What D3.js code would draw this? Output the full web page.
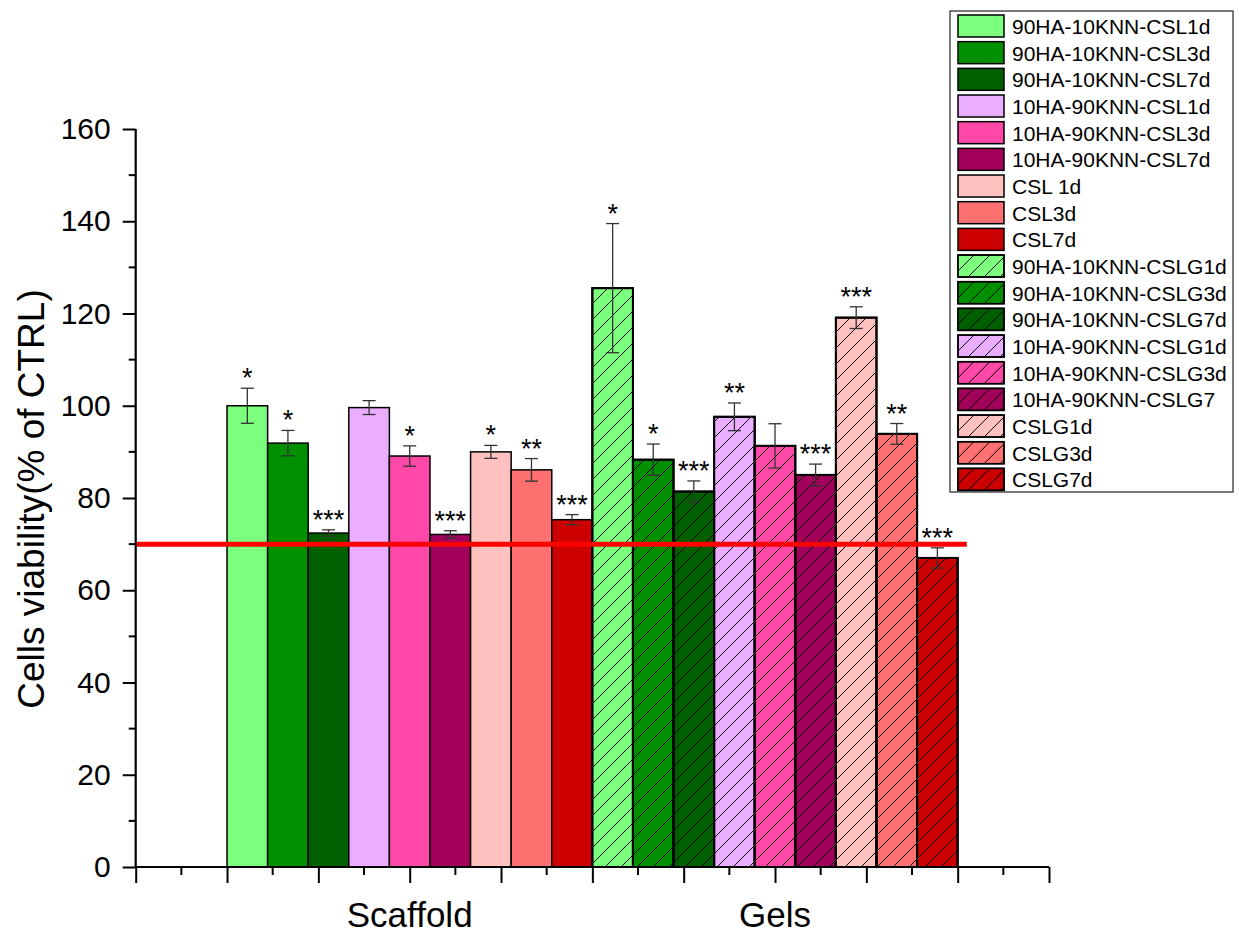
<!DOCTYPE html>
<html>
<head>
<meta charset="utf-8">
<script src="https://cdn.jsdelivr.net/npm/d3@7"></script>
<style>
  body { margin: 0; background: #fff; }
  text { font-family: "Liberation Sans", Arial, sans-serif; fill: #000; }
</style>
</head>
<body>
<svg id="chart"></svg>
<script>
// data
var groups = ["Scaffold", "Gels"];
var groupCenters = [3, 7];

var scaffoldNames = ["90HA-10KNN-CSL1d", "90HA-10KNN-CSL3d", "90HA-10KNN-CSL7d",
    "10HA-90KNN-CSL1d", "10HA-90KNN-CSL3d", "10HA-90KNN-CSL7d",
    "CSL 1d", "CSL3d", "CSL7d"];
var gelNames = ["90HA-10KNN-CSLG1d", "90HA-10KNN-CSLG3d", "90HA-10KNN-CSLG7d",
    "10HA-90KNN-CSLG1d", "10HA-90KNN-CSLG3d", "10HA-90KNN-CSLG7",
    "CSLG1d", "CSLG3d", "CSLG7d"];

var scaffoldMean = [100.0, 91.9, 72.4, 99.6, 89.1, 72.1, 90.0, 86.1, 75.3];
var scaffoldErr = [3.8, 2.75, 0.7, 1.5, 2.2, 0.8, 1.4, 2.45, 1.1];
var scaffoldSig = ["*", "*", "***", "", "*", "***", "*", "**", "***"];

var gelMean = [125.5, 88.3, 81.4, 97.6, 91.3, 85.0, 119.1, 93.9, 67.0];
var gelErr = [14.0, 3.4, 2.3, 3.0, 4.8, 2.35, 2.35, 2.25, 2.2];
var gelSig = ["*", "*", "***", "**", "", "***", "***", "**", "***"];

var colors = ["#7cff7c", "#009000", "#006000", "#ebadff", "#ff48a8",
    "#a2005a", "#ffc0c0", "#ff7070", "#cc0000"];

var yTicks = [0, 20, 40, 60, 80, 100, 120, 140, 160];
var thresholdValue = 70;
var thresholdExtent = [0, 9.1];

var width = 1239;
var height = 936;

var svg = d3.select("#chart").attr("width", width).attr("height", height);

var x = d3.scaleLinear().domain([0, 10]).range([135.7, 1049]);
var y = d3.scaleLinear().domain([0, 160]).range([867, 129]);

// bar slot inside a group, in axis units
var inner = d3.scaleBand().domain(d3.range(9)).range([-2, 2]);

var bars = [];
for (let i = 0; i < 9; i++) {
    bars.push({ name: scaffoldNames[i], g: 0, j: i, mean: scaffoldMean[i], err: scaffoldErr[i], sig: scaffoldSig[i], hatch: false });
}
for (let i = 0; i < 9; i++) {
    bars.push({ name: gelNames[i], g: 1, j: i, mean: gelMean[i], err: gelErr[i], sig: gelSig[i], hatch: true });
}

var p = 16;
var defs = svg.append("defs");
defs.append("pattern")
    .attr("id", "hatch")
    .attr("patternUnits", "userSpaceOnUse")
    .attr("width", p)
    .attr("height", p)
    .append("path")
    .attr("d", `M-4,4 L4,-4 M0,${p} L${p},0 M${p - 4},${p + 4} L${p + 4},${p - 4}`)
    .attr("stroke", "#000")
    .attr("stroke-width", 1);

function barX0(d) { return x(groupCenters[d.g] + inner(d.j)); }
function barX1(d) { return x(groupCenters[d.g] + inner(d.j) + inner.bandwidth()); }

var barG = svg.append("g");

barG.selectAll(".bar")
    .data(bars)
    .enter().append("rect")
    .attr("class", "bar")
    .attr("x", d => barX0(d))
    .attr("y", d => y(d.mean))
    .attr("width", d => barX1(d) - barX0(d))
    .attr("height", d => y(0) - y(d.mean))
    .attr("fill", d => colors[d.j])
    .attr("stroke", "#000")
    .attr("stroke-width", d => d.hatch ? 2 : 1.5);

barG.selectAll(".hatchBar")
    .data(bars.filter(d => d.hatch))
    .enter().append("rect")
    .attr("class", "hatchBar")
    .attr("x", d => barX0(d))
    .attr("y", d => y(d.mean))
    .attr("width", d => barX1(d) - barX0(d))
    .attr("height", d => y(0) - y(d.mean))
    .attr("fill", "url(#hatch)")
    .attr("stroke", "#000")
    .attr("stroke-width", 2);

// error bars
var capHalf = 6.5;
var errG = svg.append("g").attr("stroke", "#333").attr("stroke-width", 1.3);
bars.forEach(function (d) {
    var cx = (barX0(d) + barX1(d)) / 2;
    errG.append("line").attr("x1", cx).attr("x2", cx).attr("y1", y(d.mean + d.err)).attr("y2", y(d.mean - d.err));
    errG.append("line").attr("x1", cx - capHalf).attr("x2", cx + capHalf).attr("y1", y(d.mean + d.err)).attr("y2", y(d.mean + d.err));
    errG.append("line").attr("x1", cx - capHalf).attr("x2", cx + capHalf).attr("y1", y(d.mean - d.err)).attr("y2", y(d.mean - d.err));
});

// significance stars
svg.append("g").selectAll("text")
    .data(bars.filter(d => d.sig !== ""))
    .enter().append("text")
    .attr("x", d => (barX0(d) + barX1(d)) / 2)
    .attr("y", d => y(d.mean + d.err) - 1)
    .attr("text-anchor", "middle")
    .attr("font-size", "27px")
    .text(d => d.sig);

// 70% threshold
svg.append("line")
    .attr("x1", x(thresholdExtent[0]))
    .attr("x2", x(thresholdExtent[1]))
    .attr("y1", y(thresholdValue))
    .attr("y2", y(thresholdValue))
    .attr("stroke", "#ff0000")
    .attr("stroke-width", 5);

// y axis
var yAxis = svg.append("g")
    .attr("transform", `translate(${x(0)},0)`)
    .call(d3.axisLeft(y).tickValues(yTicks).tickSize(13).tickPadding(12));
yAxis.selectAll("text").attr("font-size", "30px").attr("font-family", "Liberation Sans, Arial, sans-serif");
yAxis.append("g").selectAll("line")
    .data(d3.range(10, 160, 20))
    .enter().append("line")
    .attr("x1", -7).attr("x2", 0)
    .attr("y1", d => y(d)).attr("y2", d => y(d))
    .attr("stroke", "#000");

// x axis
var xAxis = svg.append("g")
    .attr("transform", `translate(0,${y(0)})`)
    .call(d3.axisBottom(x).tickValues(d3.range(0, 11)).tickSize(16).tickFormat(""));
xAxis.append("g").selectAll("line")
    .data(d3.range(0.5, 10, 1))
    .enter().append("line")
    .attr("x1", d => x(d)).attr("x2", d => x(d))
    .attr("y1", 0).attr("y2", 8)
    .attr("stroke", "#000");

[xAxis, yAxis].forEach(function (a) {
    a.select(".domain").attr("stroke-width", 2.2);
    a.selectAll("line").attr("stroke-width", 2);
});
yAxis.select(".domain").attr("d", `M0,${y(0)}V${y(160)}`);
xAxis.select(".domain").attr("d", `M${x(0)},0H${x(10)}`);

svg.append("g").selectAll("text")
    .data(groups)
    .enter().append("text")
    .attr("x", (d, i) => x(groupCenters[i]))
    .attr("y", 927)
    .attr("text-anchor", "middle")
    .attr("font-size", "35px")
    .text(d => d);

svg.append("text")
    .attr("transform", "translate(44,499) rotate(-90)")
    .attr("text-anchor", "middle")
    .attr("font-size", "37px")
    .text("Cells viability(% of CTRL)");

// legend
var legend = svg.append("g");
legend.append("rect")
    .attr("x", 950).attr("y", 11)
    .attr("width", 283).attr("height", 481)
    .attr("fill", "#fff")
    .attr("stroke", "#222")
    .attr("stroke-width", 1.2);

var rowH = 26.67;
var items = legend.selectAll(".item")
    .data(bars)
    .enter().append("g")
    .attr("class", "item")
    .attr("transform", (d, i) => `translate(958,${15 + i * rowH})`);

items.append("rect")
    .attr("width", 46).attr("height", 22)
    .attr("fill", d => colors[d.j])
    .attr("stroke", "#000").attr("stroke-width", 1.5);
items.filter(d => d.hatch).append("rect")
    .attr("width", 46).attr("height", 22)
    .attr("fill", "url(#hatch)")
    .attr("stroke", "#000").attr("stroke-width", 1.5);
items.append("text")
    .attr("x", 54)
    .attr("y", 11)
    .attr("dy", "0.38em")
    .attr("font-size", "21px")
    .text(d => d.name);
</script>
</body>
</html>
